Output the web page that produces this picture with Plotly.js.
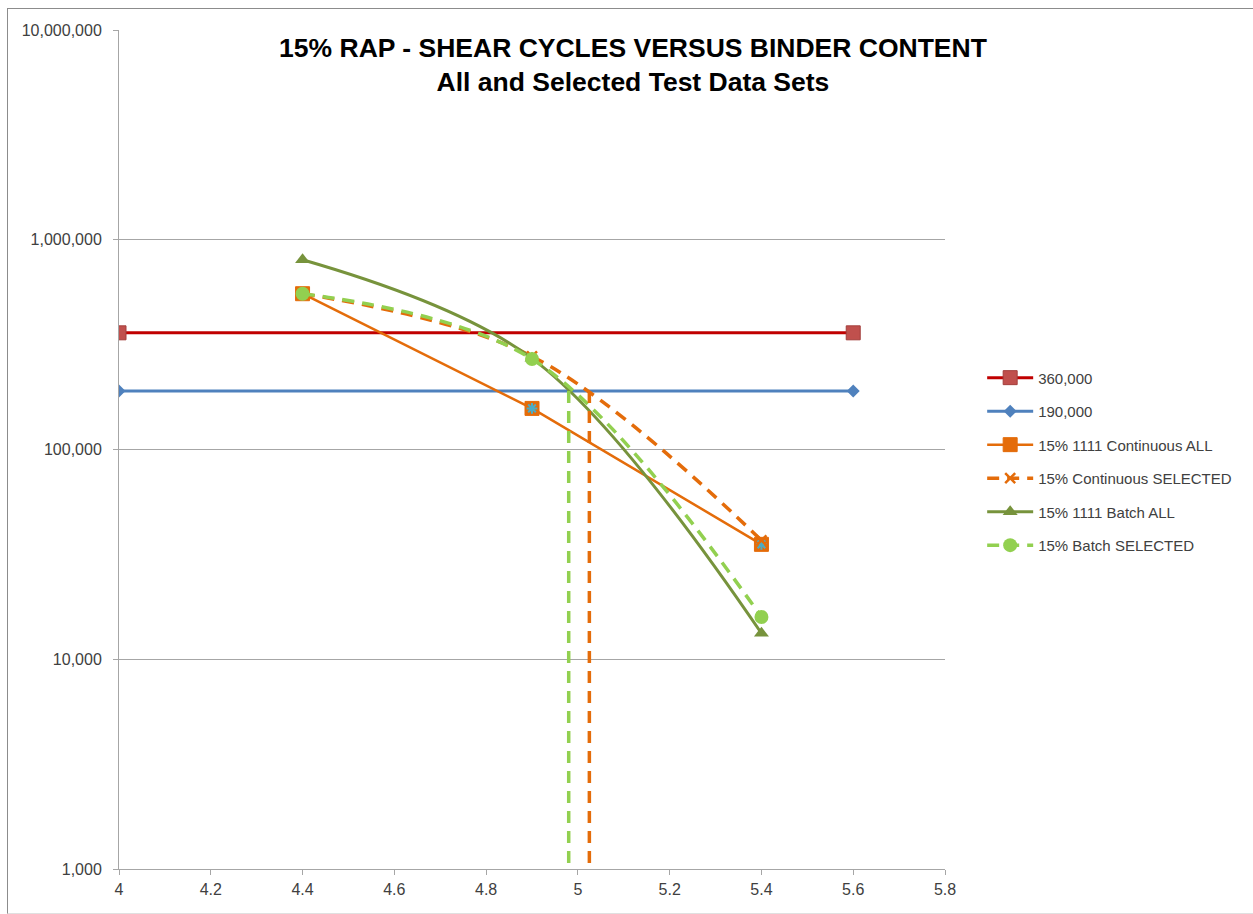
<!DOCTYPE html>
<html>
<head>
<meta charset="utf-8">
<script src="https://cdn.plot.ly/plotly-3.0.1.min.js"></script>
<style>
html,body{margin:0;padding:0;background:#fff;}
#frame{position:absolute;left:7px;top:8px;width:1245px;height:904px;border:1px solid #8c8c8c;border-right:none;border-bottom:1px solid #e0e0e0;}
#chart{width:1245px;height:904px;}
</style>
</head>
<body>
<div id="frame"><div id="chart"></div></div>
<script>
// Threshold lines
const refX = [4, 5.6];
const ref360 = [360000, 360000];
const ref190 = [190000, 190000];

// Binder content (%)
const binder = [4.4, 4.9, 5.4];

// Shear cycles
const contAll = [553000, 157000, 35300];
const contSel = [553000, 278000, 36900];
const batchAll = [803000, 272000, 13300];
const batchSel = [553000, 270000, 15900];

// Vertical drop lines (binder content at 190,000 cycles)
const contSelDropX = [5.025, 5.025];
const batchSelDropX = [4.98, 4.98];
const dropY = [190000, 1000];

// Axis ticks
const yTickVals = [1000, 10000, 100000, 1000000, 10000000];
const yTickText = ['1,000', '10,000', '100,000', '1,000,000', '10,000,000'];
const xTickVals = [4, 4.2, 4.4, 4.6, 4.8, 5, 5.2, 5.4, 5.6, 5.8];
const xTickText = ['4', '4.2', '4.4', '4.6', '4.8', '5', '5.2', '5.4', '5.6', '5.8'];

const traces = [
  {x: refX, y: ref360, name: '360,000', legendgroup: 'a', mode: 'lines+markers',
   line: {color: '#C00000', width: 3},
   marker: {symbol: 'square', size: 14, color: '#C0504D', line: {color: '#A33F3C', width: 1}}},
  {x: refX, y: ref190, name: '190,000', legendgroup: 'b', mode: 'lines+markers',
   line: {color: '#4F81BD', width: 3},
   marker: {symbol: 'diamond', size: 10, color: '#4F81BD'}},
  {x: binder, y: contAll, name: '15% 1111 Continuous ALL', legendgroup: 'c', mode: 'lines+markers',
   line: {color: '#E46C0A', width: 2.5},
   marker: {symbol: 'square', size: 14, color: '#E46C0A', line: {color: '#E46C0A', width: 1}}},
  {x: binder, y: contAll, legendgroup: 'c', showlegend: false, mode: 'markers', hoverinfo: 'skip',
   marker: {symbol: 'asterisk', size: 9, color: '#4BACC6', line: {color: '#4BACC6', width: 2}}},
  {x: binder, y: contSel, name: '15% Continuous SELECTED', legendgroup: 'd', mode: 'lines+markers',
   line: {color: '#E46C0A', width: 3.5, dash: '12px,8px', shape: 'spline', smoothing: 1},
   marker: {symbol: 'x-thin', size: 10, color: '#E46C0A', line: {color: '#E46C0A', width: 2.5}}},
  {x: binder, y: batchAll, name: '15% 1111 Batch ALL', legendgroup: 'e', mode: 'lines+markers',
   line: {color: '#77933C', width: 3, shape: 'spline', smoothing: 1},
   marker: {symbol: 'triangle-up', size: 13, color: '#77933C'}},
  {x: binder, y: batchSel, name: '15% Batch SELECTED', legendgroup: 'f', mode: 'lines+markers',
   line: {color: '#92D050', width: 3.5, dash: '12px,8px', shape: 'spline', smoothing: 1},
   marker: {symbol: 'circle', size: 14, color: '#92D050'}},
  {x: contSelDropX, y: dropY, mode: 'lines', showlegend: false, hoverinfo: 'skip',
   line: {color: '#E46C0A', width: 3.5, dash: '12px,8px'}},
  {x: batchSelDropX, y: dropY, mode: 'lines', showlegend: false, hoverinfo: 'skip',
   line: {color: '#92D050', width: 3.5, dash: '12px,8px'}}
];

const tickFont = {size: 16, color: '#404040', family: '"Liberation Sans", Arial, sans-serif'};

const layout = {
  width: 1245, height: 904,
  margin: {l: 111, r: 308, t: 21, b: 44},
  paper_bgcolor: '#ffffff', plot_bgcolor: '#ffffff',
  font: {family: '"Liberation Sans", Arial, sans-serif', color: '#404040', size: 15},
  title: {
    text: '<b>15% RAP - SHEAR CYCLES VERSUS BINDER CONTENT<br>All and Selected Test Data Sets</b>',
    font: {family: '"Liberation Sans", Arial, sans-serif', size: 26.5, color: '#000000'},
    xref: 'container', x: 0.502, xanchor: 'center',
    yref: 'container', y: 0.947, yanchor: 'top'
  },
  xaxis: {
    range: [4, 5.8], tickvals: xTickVals, ticktext: xTickText,
    showgrid: false, zeroline: false, showline: true, linecolor: '#A6A6A6', linewidth: 1,
    ticks: 'outside', ticklen: 5, tickcolor: '#A6A6A6', ticklabelstandoff: 1,
    tickfont: tickFont
  },
  yaxis: {
    type: 'log', range: [3, 7], tickvals: yTickVals, ticktext: yTickText,
    showgrid: true, gridcolor: '#A6A6A6', gridwidth: 1, zeroline: false,
    showline: true, linecolor: '#A6A6A6', linewidth: 1,
    ticks: 'outside', ticklen: 5, tickcolor: '#A6A6A6', ticklabelstandoff: 8,
    tickfont: tickFont
  },
  legend: {
    x: 1.045, xanchor: 'left', y: 0.605, yanchor: 'top',
    font: {size: 15, color: '#404040', family: '"Liberation Sans", Arial, sans-serif'},
    tracegroupgap: 11, itemwidth: 46, bgcolor: 'rgba(0,0,0,0)'
  },
  showlegend: true
};

Plotly.newPlot('chart', traces, layout, {displayModeBar: false, staticPlot: true});
</script>
</body>
</html>
